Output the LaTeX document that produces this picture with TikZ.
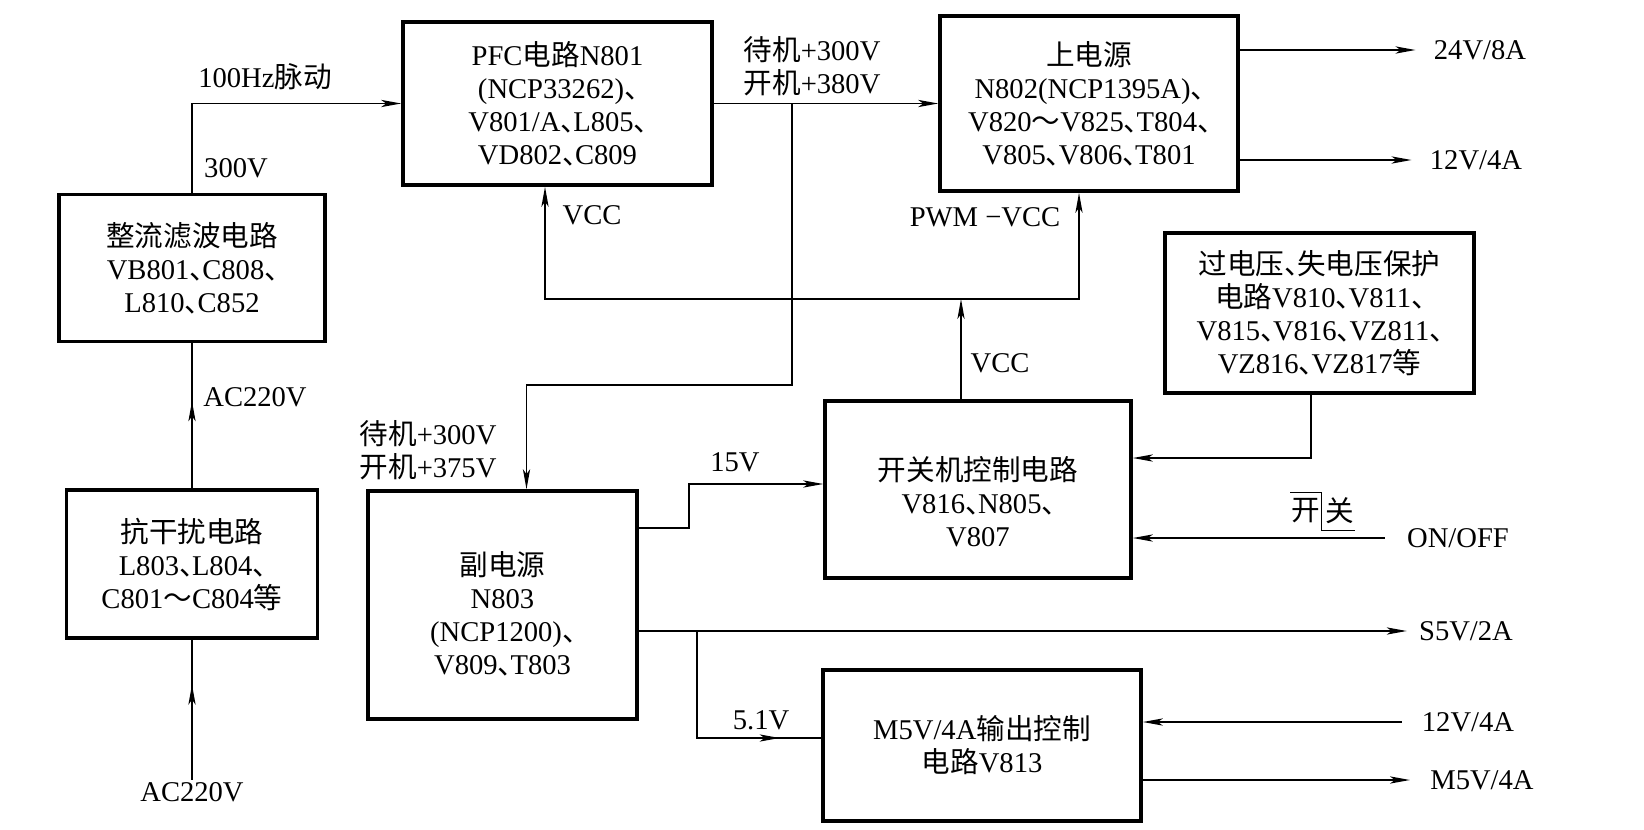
\documentclass[tikz,border=0pt]{standalone}
\usepackage{fontspec}
\setmainfont{Liberation Serif}
\newfontfamily\zhfont{Noto Sans CJK SC}
\usetikzlibrary{arrows.meta}
\usetikzlibrary{positioning}
\usetikzlibrary{decorations.markings}

\newcommand{\zh}[1]{{\zhfont #1}}
\newcommand{\dun}{{\zhfont\makebox[0.45em][l]{、}}}
\newcommand{\dcfont}{\fontsize{14.3}{16.5}\selectfont}

\tikzset{
  blk/.style={draw, line width=1.8pt, align=center, inner sep=2pt, font=\dcfont},
  lbl/.style={inner sep=1pt, align=center, font=\dcfont},
  wire/.style={line width=0.9pt},
  thinwire/.style={line width=0.6pt},
  arr/.style={-{Stealth[length=10pt,width=3.6pt,inset=2.5pt]}},
  arrboth/.style={{Stealth[length=10pt,width=3.6pt,inset=2.5pt]}-{Stealth[length=10pt,width=3.6pt,inset=2.5pt]}},
  midarr/.style={postaction={decorate},decoration={markings,mark=at position #1 with {\arrow{Stealth[length=10pt,width=3.6pt,inset=2.5pt]}}}},
}

\begin{document}
\begin{tikzpicture}[x=0.5pt,y=0.5pt,yscale=-1,xscale=1]
    \useasboundingbox (0,0) rectangle (1644,830);

    % Blocks
    \node[blk, minimum width=133pt, minimum height=73.5pt] (filt) at (192,268) {\zh{整流滤波电路}\\VB801\dun C808\dun\\L810\dun C852};
    \node[blk, minimum width=125.5pt, minimum height=74pt] (emi) at (192,564) {\zh{抗干扰电路}\\L803\dun L804\dun\\C801\zh{～}C804\zh{等}};
    \node[blk, minimum width=154.5pt, minimum height=81.5pt] (pfc) at (557.5,103.5) {PFC\zh{电路}N801\\(NCP33262)\dun\\V801/A\dun L805\dun\\VD802\dun C809};
    \node[blk, minimum width=149pt, minimum height=87.5pt] (mainps) at (1089,103.5) {\zh{上电源}\\N802(NCP1395A)\dun\\V820\zh{～}V825\dun T804\dun\\V805\dun V806\dun T801};
    \node[blk, minimum width=154.5pt, minimum height=80pt] (prot) at (1319.5,313) {\zh{过电压}\dun\zh{失电压保护}\\\zh{电路}V810\dun V811\dun\\V815\dun V816\dun VZ811\dun\\VZ816\dun VZ817\zh{等}};
    \node[blk, minimum width=153pt, minimum height=88.5pt] (onoff) at (978,489.5) {\rule{0pt}{24pt}\zh{开关机控制电路}\\V816\dun N805\dun\\V807};
    \node[blk, minimum width=134.5pt, minimum height=114pt] (aux) at (502.5,605) {\rule{0pt}{21pt}\zh{副电源}\\N803\\(NCP1200)\dun\\V809\dun T803};
    \node[blk, minimum width=159pt, minimum height=75.5pt] (m5v) at (982,745.5) {M5V/4A\zh{输出控制}\\\zh{电路}V813};

    % Text Node
    \node[lbl] (lacin) at (192,792) {AC220V};
    \node[lbl] (lacf) at (255,397) {AC220V};
    \node[lbl] (l300) at (236,168) {300V};
    \node[lbl] (l100) at (265,77) {100Hz\zh{脉动}};
    \node[lbl] (lpfcout) at (812,66.5) {\zh{待机}+300V\\\zh{开机}+380V};
    \node[lbl] (lauxin) at (428,450) {\zh{待机}+300V\\\zh{开机}+375V};
    \node[lbl] (lvccl) at (592,215) {VCC};
    \node[lbl] (lpwm) at (985,217) {PWM −VCC};
    \node[lbl] (lvccm) at (1000,363) {VCC};
    \node[lbl] (l15) at (735,462) {15V};
    \node[lbl] (l51) at (761,720) {5.1V};
    \node[lbl] (l24) at (1480,50) {24V/8A};
    \node[lbl] (l12t) at (1476,160) {12V/4A};
    \node[lbl] (lon) at (1458,538) {ON/OFF};
    \node[lbl] (ls5) at (1466,631) {S5V/2A};
    \node[lbl] (l12b) at (1468,722) {12V/4A};
    \node[lbl] (l5m) at (1482,780) {M5V/4A};
    \node[lbl, inner xsep=0.5pt, inner ysep=3pt] (swon) at (1306,511) {\zh{开}};
    \node[lbl, inner xsep=0.5pt, inner ysep=3pt, right=1pt of swon] (swoff) {\zh{关}};
    \draw[thinwire] (swon.north west) -- (swon.north east) -- (swon.north east |- swoff.south) -- (swoff.south east);

    % Input side
    \draw[wire, midarr=0.68] (lacin) -- (emi.south);
    \draw[wire, midarr=0.6] (emi.north) -- (filt.south);
    \draw[wire, arr] (filt.north) |- (pfc.west);
    \draw[wire, arr] (pfc.east) -- (mainps.west);

    % Branch to aux supply
    \coordinate (br) at (792,103.5);
    \coordinate (brdn) at (792,385);
    \draw[thinwire, arr] (br) -- (brdn) -| ([xshift=12pt]aux.north);

    % VCC tree
    \coordinate (vl) at (545,299);
    \coordinate (vr) at (1079,299);
    \coordinate (vm) at (961,299);
    \draw[wire, arrboth] (vl |- pfc.south) -- (vl) -- (vr) -- (vr |- mainps.south);
    \draw[thinwire, arr] (vm |- onoff.north) -- (vm);

    % Control inputs
    \coordinate (pk) at (1311,458);
    \draw[wire, arr] (pk |- prot.south) -- (pk) -- (pk -| onoff.east);
    \draw[wire, arr] ([xshift=-10pt]lon.west) -- (lon.west -| onoff.east);
    \coordinate (k15a) at (689,528);
    \coordinate (k15b) at (689,484);
    \draw[wire, arr] (k15a -| aux.east) -- (k15a) -- (k15b) -- (k15b -| onoff.west);

    % Outputs
    \draw[wire, arr] (l24.west -| mainps.east) -- ([xshift=-8pt]l24.west);
    \draw[wire, arr] (l12t.west -| mainps.east) -- ([xshift=-8pt]l12t.west);
    \draw[wire, arr] (ls5.west -| aux.east) -- ([xshift=-5pt]ls5.west);
    \coordinate (ks5) at (697,631);
    \coordinate (k51) at (697,738);
    \draw[thinwire, midarr=0.82] (ks5) -- (k51) -- (k51 -| m5v.west);
    \draw[wire, arr] ([xshift=-9pt]l12b.west) -- (l12b.west -| m5v.east);
    \draw[wire, arr] (l5m.west -| m5v.east) -- ([xshift=-9pt]l5m.west);

\end{tikzpicture}
\end{document}
